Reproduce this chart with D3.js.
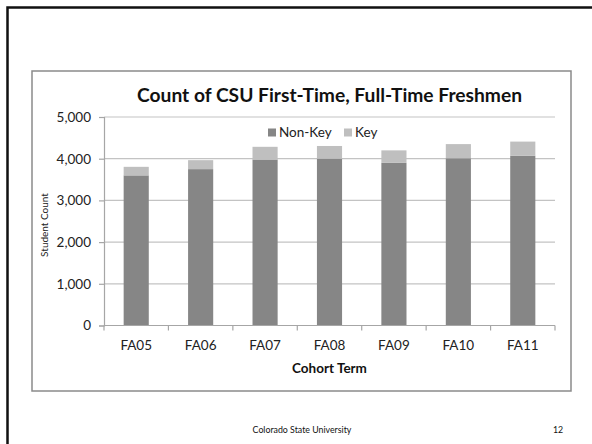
<!DOCTYPE html>
<html><head><meta charset="utf-8">
<script src="https://cdn.jsdelivr.net/npm/d3@7"></script>
<style>html,body{margin:0;padding:0;background:#fff;}svg{display:block;}</style>
</head><body>
<script>
const categories = ["FA05","FA06","FA07","FA08","FA09","FA10","FA11"];
const nonKey = [3600,3750,3980,4000,3900,4010,4070];
const key = [205,215,305,305,300,340,340];
const seriesNames = ["Non-Key","Key"];
const yTicks = [0,1000,2000,3000,4000,5000];
const colors = ["#868686","#bfbfbf"];
const font = "Lato, 'Open Sans', sans-serif";

const W = 592, H = 444;
const svg = d3.select("body").append("svg").attr("width", W).attr("height", H);
svg.append("rect").attr("width", W).attr("height", H).attr("fill", "#fff");

// slide border (left & top visible)
svg.append("path").attr("d", `M7.5,${H+5} L7.5,7.5 L${W+5},7.5`).attr("fill","none").attr("stroke","#111").attr("stroke-width",2.5);

// chart frame
svg.append("rect").attr("x",32).attr("y",71).attr("width",539).attr("height",320)
  .attr("fill","#fff").attr("stroke","#8a8a8a").attr("stroke-width",1.5);

const x = d3.scaleBand().domain(categories).range([104,555]).paddingInner(0.61).paddingOuter(0.305);
const y = d3.scaleLinear().domain([0,5000]).range([325.5,117]);

// gridlines
svg.append("g").selectAll("line").data(yTicks.filter(d=>d>0)).join("line")
  .attr("x1",104).attr("x2",555).attr("y1",d=>y(d)).attr("y2",d=>y(d))
  .attr("stroke","#c3c3c3").attr("stroke-width",1.2);

// stacked data
const rows = categories.map((c,i)=>({cat:c,"Non-Key":nonKey[i],"Key":key[i]}));
const stack = d3.stack().keys(seriesNames)(rows);
svg.append("g").selectAll("g").data(stack).join("g").attr("fill",(d,i)=>colors[i])
  .selectAll("rect").data(d=>d).join("rect")
  .attr("x",d=>x(d.data.cat)).attr("width",x.bandwidth())
  .attr("y",d=>y(d[1])).attr("height",d=>y(d[0])-y(d[1]));

// y axis
const yAxis = svg.append("g").attr("transform","translate(104,0)")
  .call(d3.axisLeft(y).tickValues(yTicks).tickSize(5).tickPadding(8).tickFormat(d3.format(",")));
yAxis.select(".domain").attr("stroke","#a6a6a6").attr("stroke-width",1.2);
yAxis.selectAll(".tick line").attr("stroke","#a6a6a6").attr("stroke-width",1.2);
yAxis.selectAll("text").attr("font-family",font).attr("font-size",13.5).attr("fill","#222");

// x axis with boundary ticks
const xAxisG = svg.append("g").attr("transform",`translate(0,${y(0)})`);
xAxisG.append("line").attr("x1",104).attr("x2",555).attr("stroke","#a6a6a6").attr("stroke-width",1.2);
const bounds = d3.range(categories.length+1).map(i=>104 + i*x.step());
xAxisG.selectAll("line.tk").data(bounds).join("line").attr("class","tk")
  .attr("x1",d=>d).attr("x2",d=>d).attr("y1",0).attr("y2",5)
  .attr("stroke","#a6a6a6").attr("stroke-width",1.2);
xAxisG.selectAll("text").data(categories).join("text")
  .attr("x",d=>x(d)+x.bandwidth()/2).attr("y",24).attr("text-anchor","middle")
  .attr("font-family",font).attr("font-size",13.5).attr("fill","#222").text(d=>d);

// title
svg.append("text").attr("x",329.5).attr("y",102).attr("text-anchor","middle")
  .attr("font-family",font).attr("font-weight","bold").attr("font-size",19.5).attr("fill","#111")
  .attr("textLength",385).attr("lengthAdjust","spacingAndGlyphs")
  .text("Count of CSU First-Time, Full-Time Freshmen");

// axis titles
svg.append("text").attr("x",329.5).attr("y",373).attr("text-anchor","middle")
  .attr("font-family",font).attr("font-weight","bold").attr("font-size",13.5).attr("fill","#111")
  .text("Cohort Term");
svg.append("text").attr("transform","translate(48,225) rotate(-90)").attr("text-anchor","middle")
  .attr("font-family",font).attr("font-size",10).attr("fill","#222").text("Student Count");

// legend
const legX = [268,344];
const leg = svg.append("g");
seriesNames.forEach((s,i)=>{
  leg.append("rect").attr("x",legX[i]).attr("y",128.5).attr("width",8).attr("height",8).attr("fill",colors[i]);
  leg.append("text").attr("x",legX[i]+11).attr("y",137).attr("font-family",font).attr("font-size",13.5)
    .attr("fill","#222").text(s);
});

// footer
svg.append("text").attr("x",302).attr("y",433).attr("text-anchor","middle")
  .attr("font-family",font).attr("font-size",8.8).attr("fill","#111").text("Colorado State University");
svg.append("text").attr("x",558).attr("y",433).attr("text-anchor","middle")
  .attr("font-family",font).attr("font-size",8.8).attr("fill","#111").text("12");
</script>
</body></html>
